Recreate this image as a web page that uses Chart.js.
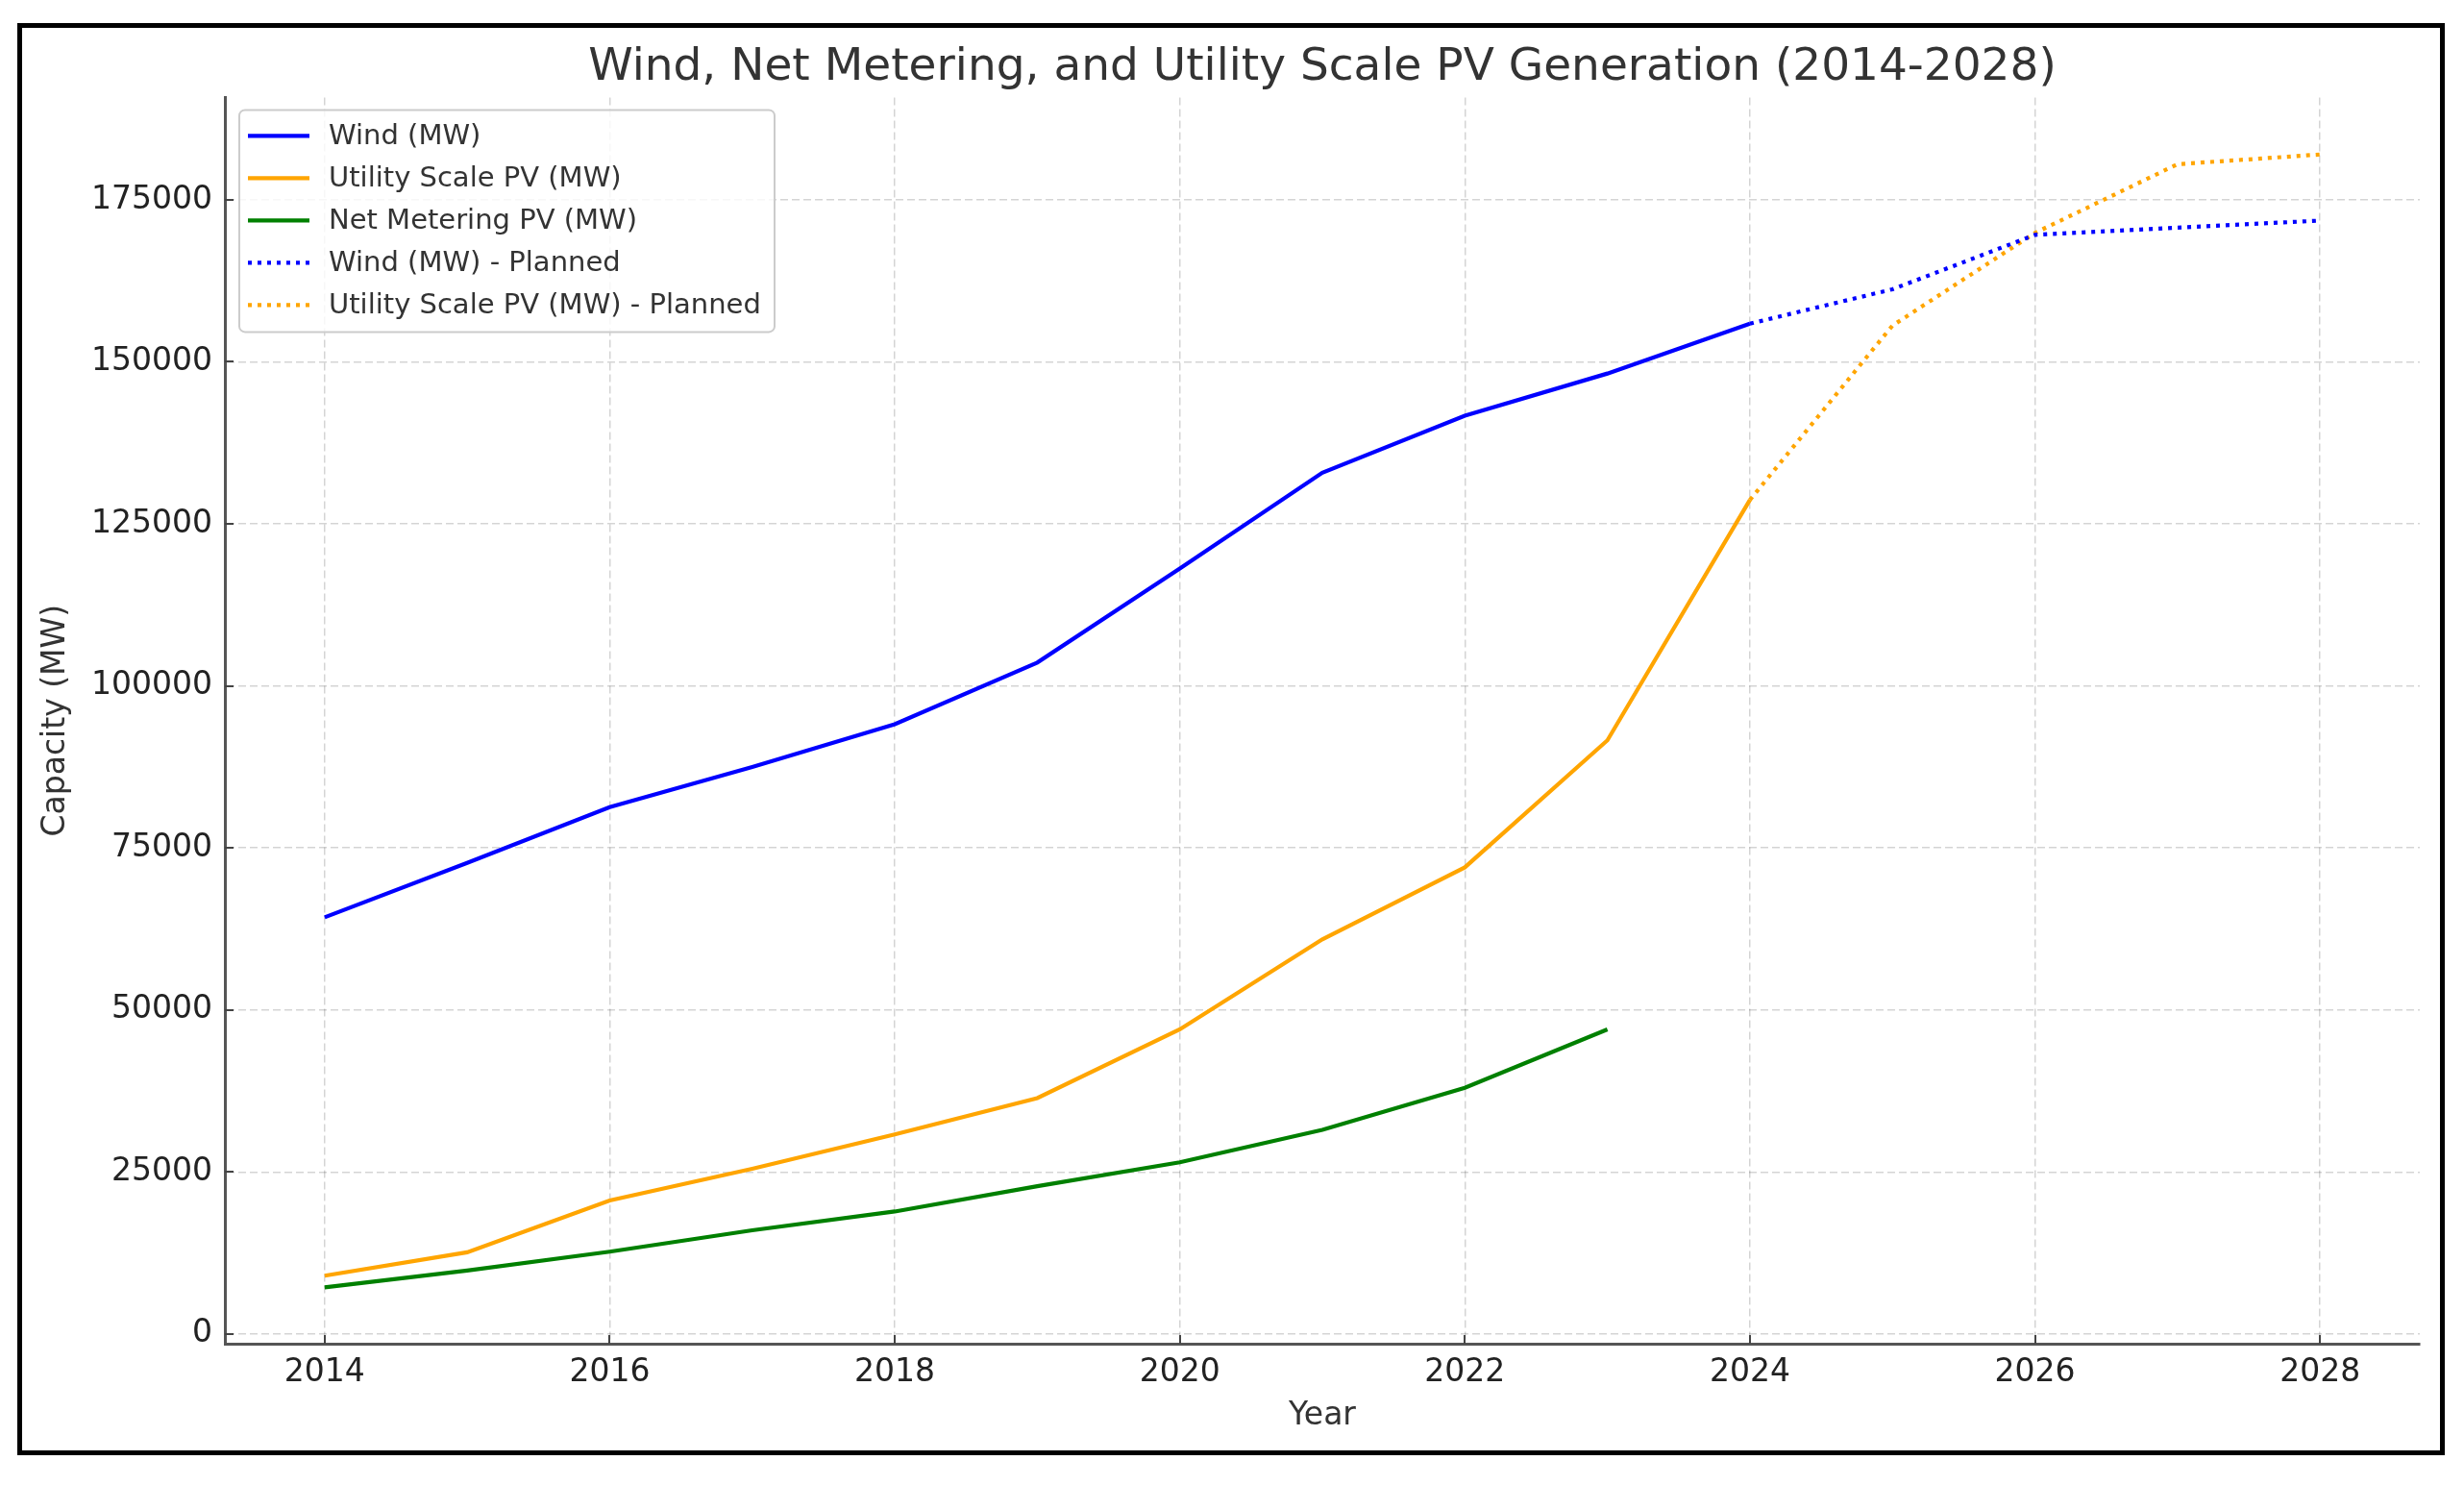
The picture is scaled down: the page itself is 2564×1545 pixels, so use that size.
<!DOCTYPE html>
<html>
<head>
<meta charset="utf-8">
<script src="https://cdn.jsdelivr.net/npm/chart.js@4"></script>
<style>
  html, body { margin: 0; padding: 0; background: #fff; }
  #frame {
    position: absolute; left: 18px; top: 24px;
    width: 2516px; height: 1480px;
    border: 5px solid #000;
  }
  #chart { display: block; }
</style>
</head>
<body>
<div id="frame"><canvas id="chart" width="2516" height="1480"></canvas></div>
<script>
// data
const years = [2014, 2015, 2016, 2017, 2018, 2019, 2020, 2021, 2022, 2023, 2024]
const windMW = [64300, 72700, 81300, 87500, 94100, 103600, 118100, 132900, 141700, 148200, 155900]
const utilityPV = [9000, 12600, 20600, 25500, 30800, 36400, 47000, 60900, 72000, 91600, 128700]

const netYears = [2014, 2015, 2016, 2017, 2018, 2019, 2020, 2021, 2022, 2023]
const netMetering = [7200, 9800, 12700, 16000, 18900, 22800, 26500, 31500, 38000, 47000]

const plannedYears = [2024, 2025, 2026, 2027, 2028]
const windPlanned = [155900, 161200, 169600, 170700, 171800]
const pvPlanned = [128700, 155600, 169900, 180500, 182000]

const xTicks = [2014, 2016, 2018, 2020, 2022, 2024, 2026, 2028]
const yTicks = [0, 25000, 50000, 75000, 100000, 125000, 150000, 175000]

const FONT = "'DejaVu Sans', sans-serif"

function pts(xs, ys){
  return xs.map((x, i) => ({x: x, y: ys[i]}))
}

// legend drawn inside plot, matplotlib style
const legendBox = {
  id: 'legendBox',
  afterDatasetsDraw(chart){
    const ctx = chart.ctx, a = chart.chartArea
    const x = a.left + 15, y = a.top + 13, w = 557, h = 231
    ctx.save()
    ctx.fillStyle = 'rgba(255,255,255,0.8)'
    ctx.strokeStyle = '#cccccc'
    ctx.lineWidth = 2
    ctx.beginPath()
    ctx.roundRect(x, y, w, h, 6)
    ctx.fill()
    ctx.stroke()
    chart.data.datasets.forEach((ds, i) => {
      const cy = y + 27 + i * 44
      ctx.strokeStyle = ds.borderColor
      ctx.lineWidth = ds.borderWidth
      ctx.setLineDash(ds.borderDash || [])
      ctx.beginPath()
      ctx.moveTo(x + 9, cy)
      ctx.lineTo(x + 73, cy)
      ctx.stroke()
      ctx.setLineDash([])
      ctx.fillStyle = '#333'
      ctx.font = "29px " + FONT
      ctx.textBaseline = 'middle'
      ctx.textAlign = 'left'
      ctx.fillText(ds.label, x + 93, cy + 1)
    })
    ctx.restore()
  }
}

// inward tick marks
const inTicks = {
  id: 'inTicks',
  afterDraw(chart){
    const ctx = chart.ctx, a = chart.chartArea
    const xs = chart.scales.x, ys = chart.scales.y
    ctx.save()
    ctx.strokeStyle = '#444'
    ctx.lineWidth = 2
    ctx.beginPath()
    xTicks.forEach(v => {
      const px = Math.round(xs.getPixelForValue(v))
      ctx.moveTo(px, a.bottom)
      ctx.lineTo(px, a.bottom - 9)
    })
    yTicks.forEach(v => {
      const py = Math.round(ys.getPixelForValue(v))
      ctx.moveTo(a.left, py)
      ctx.lineTo(a.left + 9, py)
    })
    ctx.stroke()
    ctx.restore()
  }
}

const ctx = document.getElementById("chart")

new Chart(ctx, {
  type: 'line',
  data: {
    datasets: [
      {label: "Wind (MW)", data: pts(years, windMW), borderColor: "#0000ff", borderWidth: 4.2},
      {label: "Utility Scale PV (MW)", data: pts(years, utilityPV), borderColor: "#ffa500", borderWidth: 4.2},
      {label: "Net Metering PV (MW)", data: pts(netYears, netMetering), borderColor: "#008000", borderWidth: 4.2},
      {label: "Wind (MW) - Planned", data: pts(plannedYears, windPlanned), borderColor: "#0000ff", borderWidth: 4.2, borderDash: [4, 6]},
      {label: "Utility Scale PV (MW) - Planned", data: pts(plannedYears, pvPlanned), borderColor: "#ffa500", borderWidth: 4.2, borderDash: [4, 6]}
    ]
  },
  options: {
    responsive: false,
    devicePixelRatio: 1,
    animation: false,
    elements: {
      point: {radius: 0},
      line: {tension: 0, fill: false, borderCapStyle: 'butt'}
    },
    layout: {padding: {left: 0, right: 21, top: 0, bottom: 0}},
    plugins: {
      legend: {display: false},
      tooltip: {enabled: false},
      title: {
        display: true,
        fullSize: false,
        text: "Wind, Net Metering, and Utility Scale PV Generation (2014-2028)",
        color: '#333',
        font: {family: FONT, size: 47, weight: 'normal'},
        padding: {top: 14, bottom: 2}
      }
    },
    scales: {
      x: {
        type: 'linear',
        min: 2013.3,
        max: 2028.7,
        afterBuildTicks: s => { s.ticks = xTicks.map(v => ({value: v})) },
        afterFit: s => { s.height = 111 },
        ticks: {
          color: '#222',
          font: {family: FONT, size: 33},
          padding: 11,
          maxRotation: 0,
          callback: v => String(v)
        },
        grid: {color: 'rgba(0,0,0,0.17)', lineWidth: 1.5, drawTicks: false},
        border: {display: true, color: '#555', width: 3, dash: [8, 4]},
        title: {display: true, text: 'Year', color: '#333', font: {family: FONT, size: 33}, padding: {top: 0, bottom: 16}}
      },
      y: {
        min: -1500,
        max: 190800,
        afterBuildTicks: s => { s.ticks = yTicks.map(v => ({value: v})) },
        afterFit: s => { s.width = 211 },
        ticks: {
          color: '#222',
          font: {family: FONT, size: 33},
          padding: 13,
          callback: v => String(v)
        },
        grid: {color: 'rgba(0,0,0,0.17)', lineWidth: 1.5, drawTicks: false},
        border: {display: true, color: '#555', width: 3, dash: [8, 4]},
        title: {display: true, text: 'Capacity (MW)', color: '#333', font: {family: FONT, size: 33}, padding: {top: 16, bottom: 0}}
      }
    }
  },
  plugins: [legendBox, inTicks]
})
</script>
</body>
</html>
